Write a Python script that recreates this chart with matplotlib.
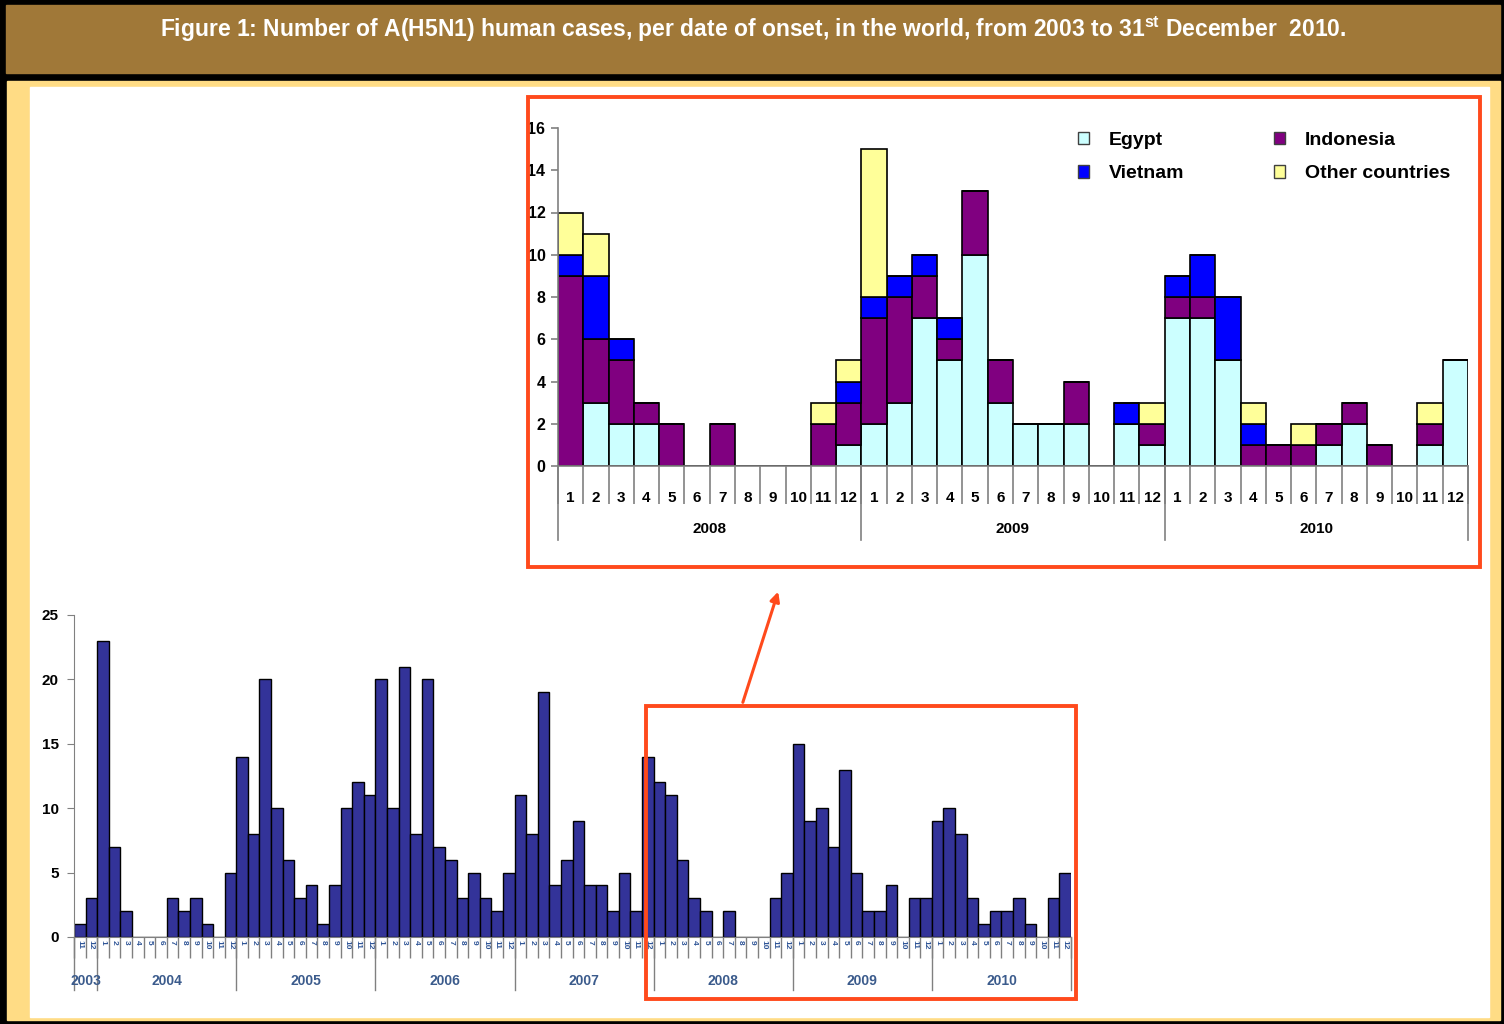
import matplotlib
matplotlib.use("Agg")
import matplotlib.pyplot as plt
import numpy as np
from matplotlib.patches import Rectangle, Patch, FancyArrowPatch

plt.rcParams['font.family'] = ['Liberation Sans', 'DejaVu Sans']
plt.rcParams['mathtext.fontset'] = 'custom'
plt.rcParams['mathtext.rm'] = 'Liberation Sans:bold'

# ---- data: whole period (bottom chart), monthly totals ----
years_all = ['2003', '2004', '2005', '2006', '2007', '2008', '2009', '2010']
months_all = [[11, 12]] + [list(range(1, 13))] * 7
cases_all = [
    1, 3,                                          # 2003
    23, 7, 2, 0, 0, 0, 3, 2, 3, 1, 0, 5,           # 2004
    14, 8, 20, 10, 6, 3, 4, 1, 4, 10, 12, 11,      # 2005
    20, 10, 21, 8, 20, 7, 6, 3, 5, 3, 2, 5,        # 2006
    11, 8, 19, 4, 6, 9, 4, 4, 2, 5, 2, 14,         # 2007
    12, 11, 6, 3, 2, 0, 2, 0, 0, 0, 3, 5,          # 2008
    15, 9, 10, 7, 13, 5, 2, 2, 4, 0, 3, 3,         # 2009
    9, 10, 8, 3, 1, 2, 2, 3, 1, 0, 3, 5,           # 2010
]

# ---- data: 2008-2010 by country (top chart) ----
years_zoom = ['2008', '2009', '2010']
egypt = [0, 3, 2, 2, 0, 0, 0, 0, 0, 0, 0, 1,
         2, 3, 7, 5, 10, 3, 2, 2, 2, 0, 2, 1,
         7, 7, 5, 0, 0, 0, 1, 2, 0, 0, 1, 5]
indonesia = [9, 3, 3, 1, 2, 0, 2, 0, 0, 0, 2, 2,
             5, 5, 2, 1, 3, 2, 0, 0, 2, 0, 0, 1,
             1, 1, 0, 1, 1, 1, 1, 1, 1, 0, 1, 0]
vietnam = [1, 3, 1, 0, 0, 0, 0, 0, 0, 0, 0, 1,
           1, 1, 1, 1, 0, 0, 0, 0, 0, 0, 1, 0,
           1, 2, 3, 1, 0, 0, 0, 0, 0, 0, 0, 0]
other = [2, 2, 0, 0, 0, 0, 0, 0, 0, 0, 1, 1,
         7, 0, 0, 0, 0, 0, 0, 0, 0, 0, 0, 1,
         0, 0, 0, 1, 0, 1, 0, 0, 0, 0, 1, 0]

W, H = 1504, 1024
RED = '#FF4A1C'


def rect(x0, y0, x1, y1):
    return [x0 / W, 1 - y1 / H, (x1 - x0) / W, (y1 - y0) / H]


fig = plt.figure(figsize=(W / 100, H / 100), dpi=100, facecolor='black')

# background frame in pixel coordinates
bg = fig.add_axes([0, 0, 1, 1], zorder=0)
bg.set_xlim(0, W)
bg.set_ylim(H, 0)
bg.axis('off')
bg.add_patch(Rectangle((6, 5), 1494, 68, color='#A07838'))
bg.add_patch(Rectangle((7, 81), 1493, 939, color='#FFDC85'))
bg.add_patch(Rectangle((30, 87), 1459, 930, color='white'))
bg.text(753, 29, 'Figure 1: Number of A(H5N1) human cases, per date of onset, in the world, '
        'from 2003 to 31$^{\\mathrm{st}}$ December  2010.',
        color='white', fontsize=16.5, fontweight='bold', ha='center', va='center')

# ---------------- top chart: 2008-2010 by country ----------------
ax = fig.add_axes(rect(558, 128, 1468, 466), zorder=2)
ax.set_facecolor('none')
x = np.arange(len(egypt))
eg = np.array(egypt)
ind = np.array(indonesia)
vn = np.array(vietnam)
ot = np.array(other)
kw = dict(width=1.0, edgecolor='black', linewidth=1.2)
ax.bar(x, eg, color='#CCFFFF', **kw)
ax.bar(x, ind, bottom=eg, color='#800080', **kw)
ax.bar(x, vn, bottom=eg + ind, color='#0000FF', **kw)
ax.bar(x, ot, bottom=eg + ind + vn, color='#FFFF99', **kw)

ax.set_xlim(-0.5, len(x) - 0.5)
ax.set_ylim(0, 16)
ax.set_yticks(range(0, 17, 2))
for s in ['top', 'right']:
    ax.spines[s].set_visible(False)
ax.spines['left'].set_color('#808080')
ax.spines['bottom'].set_color('#808080')
ax.spines['left'].set_linewidth(1.2)
ax.spines['bottom'].set_linewidth(1.2)
ax.tick_params(axis='y', length=5, width=1.2, color='#808080', pad=4,
               labelsize=11.5)
for t in ax.get_yticklabels():
    t.set_fontweight('bold')
month_lbl = [str(m) for _ in years_zoom for m in range(1, 13)]
ax.set_xticks(x)
ax.set_xticklabels(month_lbl, fontsize=11, fontweight='bold')
ax.tick_params(axis='x', which='major', length=0, pad=18)
ax.set_xticks(np.arange(-0.5, len(x), 1.0), minor=True)
ax.tick_params(axis='x', which='minor', length=27, width=1.2, color='#808080')
tr = ax.get_xaxis_transform()
for k in range(len(years_zoom) + 1):
    xb = k * 12 - 0.5
    ax.plot([xb, xb], [0, -74 / 338], transform=tr, color='#808080', lw=1.2,
            clip_on=False)
for k, yr in enumerate(years_zoom):
    ax.text(k * 12 + 5.5, -63 / 338, yr, transform=tr, ha='center', va='center',
            fontsize=11, fontweight='bold')

handles = [Patch(facecolor='#CCFFFF', edgecolor='#404040'),
           Patch(facecolor='#0000FF', edgecolor='#404040'),
           Patch(facecolor='#800080', edgecolor='#404040'),
           Patch(facecolor='#FFFF99', edgecolor='#404040')]
labels = ['Egypt', 'Vietnam', 'Indonesia', 'Other countries']
ax.legend(handles, labels, ncol=2, loc='upper left', frameon=False,
          bbox_to_anchor=(1068 / W, 1 - 122 / H), bbox_transform=fig.transFigure,
          borderpad=0, handlelength=0.6, handleheight=0.6, handletextpad=1.0,
          columnspacing=4.6, labelspacing=0.85,
          prop={'size': 14, 'weight': 'bold'})

# ---------------- bottom chart: whole period ----------------
ax2 = fig.add_axes(rect(74, 615, 1071, 937), zorder=2)
ax2.set_facecolor('none')
n = len(cases_all)
xb2 = np.arange(n)
ax2.bar(xb2, cases_all, width=1.0, color='#333399', edgecolor='black', linewidth=1.0)
ax2.set_xlim(-0.5, n - 0.5)
ax2.set_ylim(0, 25)
ax2.set_yticks(range(0, 26, 5))
for s in ['top', 'right']:
    ax2.spines[s].set_visible(False)
ax2.spines['left'].set_color('#808080')
ax2.spines['bottom'].set_color('#808080')
ax2.tick_params(axis='y', length=5, color='#808080', pad=6, labelsize=11)
for t in ax2.get_yticklabels():
    t.set_fontweight('bold')
mlabels = [str(m) for ms in months_all for m in ms]
ax2.set_xticks(xb2)
ax2.set_xticklabels(mlabels, rotation=270, fontsize=6, color='#2F5597',
                    fontweight='bold')
ax2.tick_params(axis='x', which='major', length=0, pad=2)
ax2.set_xticks(np.arange(-0.5, n, 1.0), minor=True)
ax2.tick_params(axis='x', which='minor', length=15, width=1.0, color='#808080')
tr2 = ax2.get_xaxis_transform()
starts = np.cumsum([0] + [len(ms) for ms in months_all])
for s0 in starts:
    ax2.plot([s0 - 0.5, s0 - 0.5], [0, -53 / 322], transform=tr2, color='#808080',
             lw=1.0, clip_on=False)
for k, yr in enumerate(years_all):
    cx = (starts[k] + starts[k + 1] - 1) / 2
    ax2.text(cx, -44 / 322, yr, transform=tr2, ha='center', va='center',
             fontsize=10, color='#3B5B8C', fontweight='bold')

# ---------------- red highlight boxes and arrow ----------------
ov = fig.add_axes([0, 0, 1, 1], zorder=5)
ov.set_xlim(0, W)
ov.set_ylim(H, 0)
ov.axis('off')
ov.patch.set_alpha(0)
ov.add_patch(Rectangle((528, 97), 952, 470, fill=False, edgecolor=RED, lw=2.8))
ov.add_patch(Rectangle((646, 706), 430, 293, fill=False, edgecolor=RED, lw=2.8))
ov.add_patch(FancyArrowPatch((742, 705), (779, 589), arrowstyle='-|>',
                             mutation_scale=14, color=RED, lw=2.2))

fig.savefig('out.png', dpi=100, facecolor='black')
